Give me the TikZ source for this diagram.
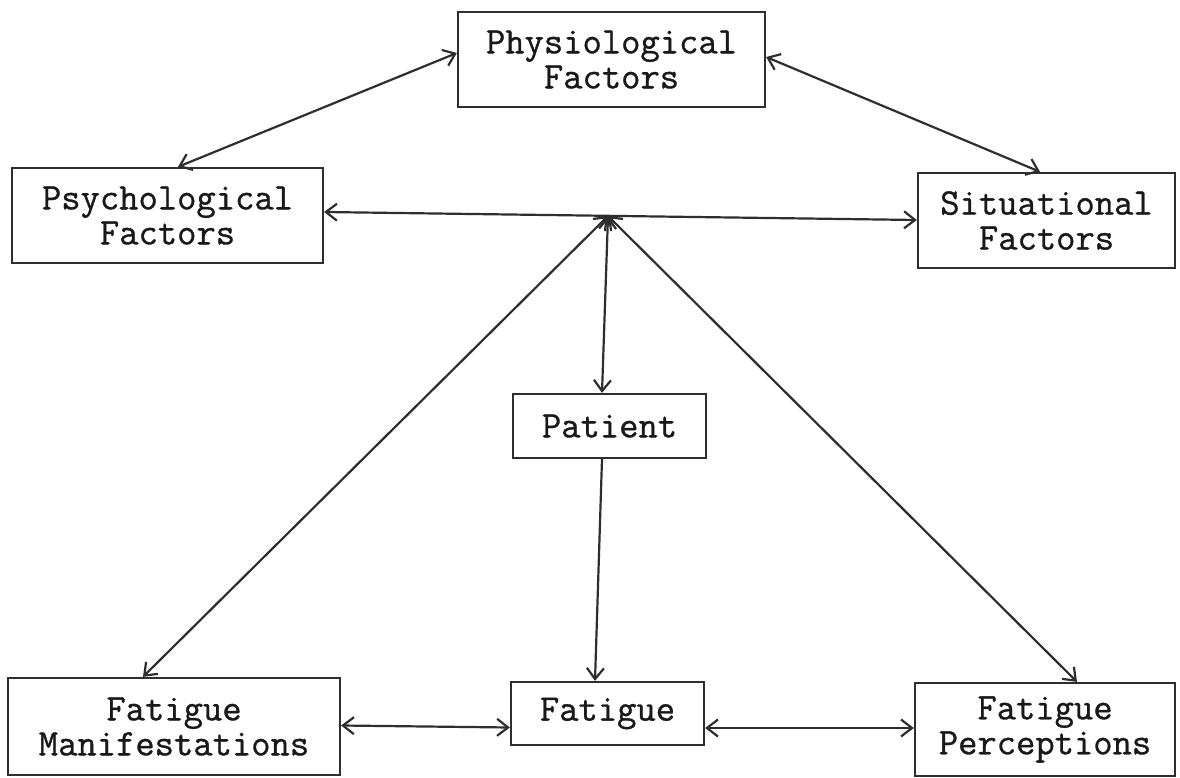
\documentclass[tikz,border=0pt]{standalone}
\usepackage{fontspec}
\newfontfamily\courfont{Latin Modern Mono}[BoldFont={Latin Modern Mono},BoldFeatures={FakeBold=0.9}]
\usetikzlibrary{arrows.meta,calc}
\definecolor{ink}{HTML}{2E2E2E}
\tikzset{
  boxnode/.style={draw=ink, line width=2.3pt, rectangle, inner sep=0pt, align=center,
    text=black!90, font=\courfont\bfseries\fontsize{37.5}{35}\selectfont},
  link/.style={draw=ink, line width=2.2pt, line cap=round},
  both/.style={link, {Straight Barb[length=11pt,width=17pt]}-{Straight Barb[length=11pt,width=17pt]}},
  one/.style={link, -{Straight Barb[length=11pt,width=17pt]}}
}
\begin{document}
\begin{tikzpicture}[x=1pt,y=-1pt]
\useasboundingbox (0,0) rectangle (1180,778);
\fill[white] (0,0) rectangle (1180,778);
\node[boxnode, minimum width=307pt, minimum height=95pt] (phys) at (611.5,59.5) {Physiological\\Factors};
\node[boxnode, minimum width=311pt, minimum height=95pt] (psych) at (167.5,215.5) {Psychological\\Factors};
\node[boxnode, minimum width=257pt, minimum height=95pt] (situ) at (1046.5,220.5) {Situational\\Factors};
\node[boxnode, minimum width=193pt, minimum height=64pt] (patient) at (609.5,426) {Patient};
\node[boxnode, minimum width=332pt, minimum height=97pt] (fm) at (174,726.5) {Fatigue\\Manifestations};
\node[boxnode, minimum width=193pt, minimum height=63pt] (fatigue) at (607.5,713.5) {Fatigue};
\node[boxnode, minimum width=260pt, minimum height=93pt] (fp) at (1045,729.5) {Fatigue\\Perceptions};
\coordinate (hub) at (608,216);
% top triangle
\draw[both] ($(phys.west)+(0,-6.5)$) -- ($(psych.north)+(10.5,0)$);
\draw[both] ($(phys.east)+(0,-2.5)$) -- ($(situ.north)+(-6.5,0)$);
\draw[both] ($(psych.east)+(0,-3.5)$) -- ($(situ.west)+(0,-0.5)$);
% hub links
\draw[both] (hub) -- ($(patient.north)+(-7.5,0)$);
\draw[both] (hub) -- ($(fm.north)+(-31,0)$);
\draw[both] (hub) -- ($(fp.north)+(32,0)$);
% bottom
\draw[one] ($(patient.south)+(-7.5,0)$) -- ($(fatigue.north)+(-12.5,0)$);
\draw[both] ($(fm.east)+(0,-1)$) -- ($(fatigue.west)+(0,14)$);
\draw[both] ($(fatigue.east)+(0,14.5)$) -- ($(fp.west)+(0,-1.5)$);
\end{tikzpicture}
\end{document}
